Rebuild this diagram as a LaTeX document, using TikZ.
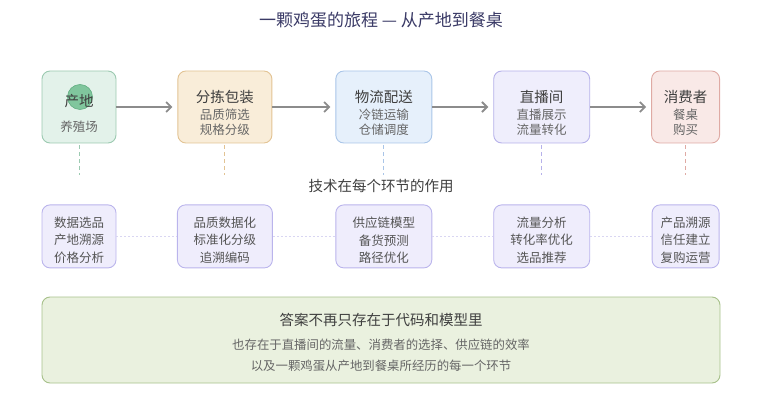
\documentclass[tikz,border=0pt]{standalone}
\usepackage{fontspec}
\setmainfont{Noto Sans CJK SC}
\usetikzlibrary{arrows.meta,positioning}

\definecolor{titlec}{HTML}{3A3A66}
\definecolor{headc}{HTML}{3F3F3F}
\definecolor{subc}{HTML}{666666}
\definecolor{techc}{HTML}{555555}
\definecolor{farmf}{HTML}{E3F2EA}\definecolor{farml}{HTML}{9CCAB1}
\definecolor{packf}{HTML}{F9EDD9}\definecolor{packl}{HTML}{E2C393}
\definecolor{shipf}{HTML}{E6F0FB}\definecolor{shipl}{HTML}{A9C5E8}
\definecolor{livef}{HTML}{EFEEFC}\definecolor{livel}{HTML}{B6B1EA}
\definecolor{buyf}{HTML}{F9E9E7}\definecolor{buyl}{HTML}{DFAAA4}
\definecolor{techf}{HTML}{EFEDFC}\definecolor{techl}{HTML}{BAB4EC}
\definecolor{notef}{HTML}{EAF1DF}\definecolor{notel}{HTML}{A7C18A}
\definecolor{eggf}{HTML}{80C69D}\definecolor{eggl}{HTML}{62AE82}
\definecolor{flowc}{HTML}{8C8C8C}
\definecolor{dotc}{HTML}{D9D6F2}

\newcommand{\stagefont}{\fontsize{14.5}{17}\selectfont\color{headc}}
\newcommand{\notefont}{\fontsize{14.5}{17}\selectfont\color{headc}}

\begin{document}
\begin{tikzpicture}[
    x=1pt, y=-1pt,
    >={Straight Barb[length=5pt,width=10pt]},
    box/.style={draw, rounded corners=8pt, line width=0.9pt, minimum height=72pt, inner sep=0pt},
    tech/.style={box, fill=techf, draw=techl, minimum height=63pt},
    stagetxt/.style={align=center, text=subc, font=\fontsize{12.5}{15.5}\selectfont},
    techtxt/.style={align=center, text=techc, font=\fontsize{12.5}{17.6}\selectfont},
    flow/.style={->, line width=1.8pt, draw=flowc, shorten >=5pt},
    link/.style={dashed, dash pattern=on 4pt off 3pt, line width=0.9pt, shorten <=2pt, shorten >=29pt},
    dotline/.style={line width=0.8pt, draw=dotc, dash pattern=on 2pt off 2pt}
]
\useasboundingbox (0,0) rectangle (782,393);

\node[text=titlec, font=\fontsize{17}{20}\selectfont] (title) at (381,20) {一颗鸡蛋的旅程 — 从产地到餐桌};

% stages
\node[box, fill=farmf, draw=farml, minimum width=74pt] (farm) at (79,107) {};
\node[box, fill=packf, draw=packl, minimum width=94pt, right=61pt of farm] (pack) {};
\node[box, fill=shipf, draw=shipl, minimum width=96pt, right=63pt of pack] (ship) {};
\node[box, fill=livef, draw=livel, minimum width=96pt, right=61pt of ship] (live) {};
\node[box, fill=buyf, draw=buyl, minimum width=68pt, right=61pt of live] (buyer) {};

\node[circle, fill=eggf, draw=eggl, line width=0.6pt, minimum size=25pt, inner sep=0pt] (egg) at ([xshift=1pt,yshift=10pt]farm.center) {};

\node[stagetxt] (farm-t) at ([yshift=-6pt]farm.center) {{\stagefont 产地}\\[9.5pt]养殖场};
\node[stagetxt] (pack-t) at ([yshift=-6pt]pack.center) {{\stagefont 分拣包装}\\[1pt]品质筛选\\规格分级};
\node[stagetxt] (ship-t) at ([yshift=-6pt]ship.center) {{\stagefont 物流配送}\\[1pt]冷链运输\\仓储调度};
\node[stagetxt] (live-t) at ([yshift=-6pt]live.center) {{\stagefont 直播间}\\[1pt]直播展示\\流量转化};
\node[stagetxt] (buyer-t) at ([yshift=-6pt]buyer.center) {{\stagefont 消费者}\\[1pt]餐桌\\购买};

\draw[flow] (farm) -- (pack);
\draw[flow] (pack) -- (ship);
\draw[flow] (ship) -- (live);
\draw[flow] (live) -- (buyer);

% technology row
\node[text=headc, font=\fontsize{14.5}{17}\selectfont] (techtitle) at (381,186) {技术在每个环节的作用};

\node[tech, minimum width=74pt, below=61pt of farm] (tfarm) {};
\node[tech, minimum width=95pt, below=61pt of pack] (tpack) {};
\node[tech, minimum width=96pt, below=61pt of ship] (tship) {};
\node[tech, minimum width=96pt, below=61pt of live] (tlive) {};
\node[tech, minimum width=67pt, below=61pt of buyer] (tbuyer) {};

\node[techtxt] (tfarm-t) at ([yshift=-3.8pt]tfarm.center) {数据选品\\产地溯源\\价格分析};
\node[techtxt] (tpack-t) at ([yshift=-3.8pt]tpack.center) {品质数据化\\标准化分级\\追溯编码};
\node[techtxt] (tship-t) at ([yshift=-3.8pt]tship.center) {供应链模型\\备货预测\\路径优化};
\node[techtxt] (tlive-t) at ([yshift=-3.8pt]tlive.center) {流量分析\\转化率优化\\选品推荐};
\node[techtxt] (tbuyer-t) at ([yshift=-3.8pt]tbuyer.center) {产品溯源\\信任建立\\复购运营};

\draw[link, draw=farml] (farm) -- (tfarm);
\draw[link, draw=packl] (pack) -- (tpack);
\draw[link, draw=shipl] (ship) -- (tship);
\draw[link, draw=livel] (live) -- (tlive);
\draw[link, draw=buyl] (buyer) -- (tbuyer);

\draw[dotline] (tfarm) -- (tpack);
\draw[dotline] (tpack) -- (tship);
\draw[dotline] (tship) -- (tlive);
\draw[dotline] (tlive) -- (tbuyer);

% conclusion
\node[box, fill=notef, draw=notel, minimum width=678pt, minimum height=86pt] (note) at (381,340) {};
\node[align=center, text=subc, font=\fontsize{12.4}{20.5}\selectfont] (note-t) at ([yshift=-2.2pt]note.center)
  {{\notefont 答案不再只存在于代码和模型里}\\[3.7pt]也存在于直播间的流量、消费者的选择、供应链的效率\\以及一颗鸡蛋从产地到餐桌所经历的每一个环节};
\end{tikzpicture}
\end{document}
